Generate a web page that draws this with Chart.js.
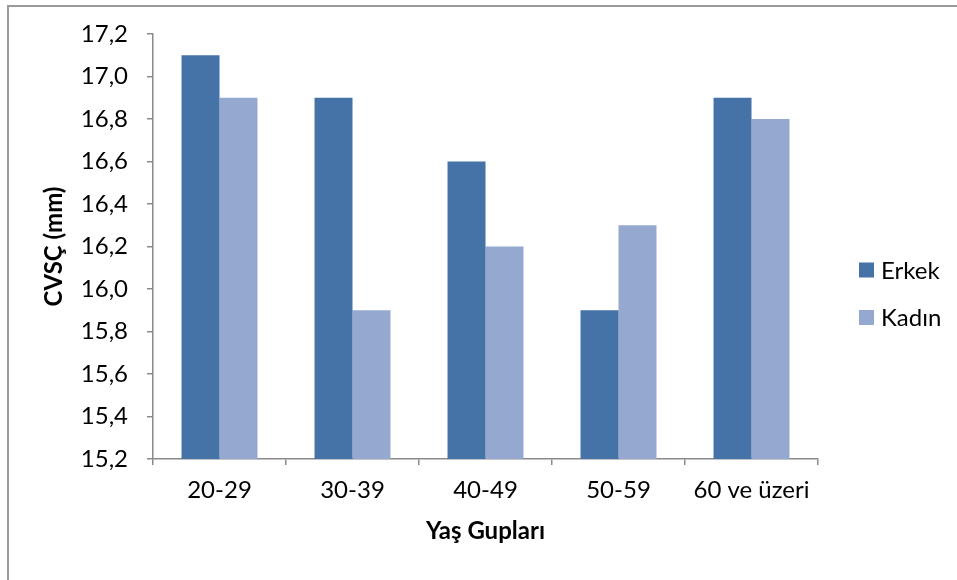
<!DOCTYPE html>
<html lang="tr">
<head>
<meta charset="utf-8">
<script src="https://cdn.jsdelivr.net/npm/chart.js@4/dist/chart.umd.min.js"></script>
<style>
    html, body { margin: 0; padding: 0; background: #fff; }
    #frame {
        position: absolute; left: 7px; top: 5px; right: -10px; bottom: -10px;
        border-left: 2px solid #9a9a9a; border-top: 2px solid #9a9a9a;
    }
    #cvsc { position: absolute; left: 0; top: 0; }
</style>
</head>
<body>
<div id="frame"></div>
<canvas id="cvsc" width="957" height="580"></canvas>
<script>
const yasGruplari = ["20-29", "30-39", "40-49", "50-59", "60 ve üzeri"];
const erkek = [17.1, 16.9, 16.6, 15.9, 16.9];
const kadin = [16.9, 15.9, 16.2, 16.3, 16.8];
const eksenMin = 15.2;
const eksenMax = 17.2;
const eksenAdim = 0.2;

const FONT = "Lato, 'Open Sans', sans-serif";
const AXIS_GRAY = "#8a8a8a";

// legend drawn by hand to sit beside the plot like the Office style
const sagLejant = {
    id: "sagLejant",
    afterDraw(chart) {
        const ctx = chart.ctx;
        const x = chart.chartArea.right + 41;
        let y = 270;
        ctx.save();
        ctx.font = "24px " + FONT;
        ctx.textBaseline = "middle";
        chart.data.datasets.forEach((ds) => {
            ctx.fillStyle = ds.backgroundColor;
            ctx.fillRect(x, y - 7.5, 15, 15);
            ctx.fillStyle = "#000";
            ctx.fillText(ds.label, x + 22, y + 1);
            y += 47.5;
        });
        ctx.restore();
    },
};

new Chart(document.getElementById("cvsc"), {
    type: "bar",
    data: {
        labels: yasGruplari,
        datasets: [
            {
                label: "Erkek",
                data: erkek,
                backgroundColor: "#4572A7",
                categoryPercentage: 0.571,
                barPercentage: 1,
            },
            {
                label: "Kadın",
                data: kadin,
                backgroundColor: "#95A9D0",
                categoryPercentage: 0.571,
                barPercentage: 1,
            },
        ],
    },
    options: {
        responsive: false,
        animation: false,
        layout: { padding: { left: 0, top: 34, right: 139, bottom: 0 } },
        plugins: {
            legend: { display: false },
            tooltip: { enabled: false },
        },
        scales: {
            x: {
                grid: {
                    offset: true,
                    drawOnChartArea: false,
                    drawTicks: true,
                    tickLength: 6,
                    color: AXIS_GRAY,
                    lineWidth: 1.5,
                },
                border: { display: true, color: AXIS_GRAY, width: 1.5 },
                ticks: {
                    color: "#000",
                    font: { family: FONT, size: 24 },
                    padding: 11,
                    maxRotation: 0,
                },
                title: {
                    display: true,
                    text: "Yaş Gupları",
                    color: "#000",
                    font: { family: FONT, size: 24, weight: "bold" },
                    padding: { top: 0, bottom: 34 },
                },
                afterFit: (scale) => { scale.height = 121; },
            },
            y: {
                min: eksenMin,
                max: eksenMax,
                grid: {
                    drawOnChartArea: false,
                    drawTicks: true,
                    tickLength: 6,
                    color: AXIS_GRAY,
                    lineWidth: 1.5,
                },
                border: { display: true, color: AXIS_GRAY, width: 1.5 },
                ticks: {
                    stepSize: eksenAdim,
                    color: "#000",
                    font: { family: FONT, size: 24 },
                    padding: 19,
                    callback: (v) => Number(v).toFixed(1).replace(".", ","),
                },
                title: {
                    display: true,
                    text: "CVSÇ (mm)",
                    color: "#000",
                    font: { family: FONT, size: 24, weight: "bold" },
                    padding: { top: 40, bottom: 0 },
                },
                afterFit: (scale) => { scale.width = 153; },
            },
        },
    },
    plugins: [sagLejant],
});
</script>
</body>
</html>
